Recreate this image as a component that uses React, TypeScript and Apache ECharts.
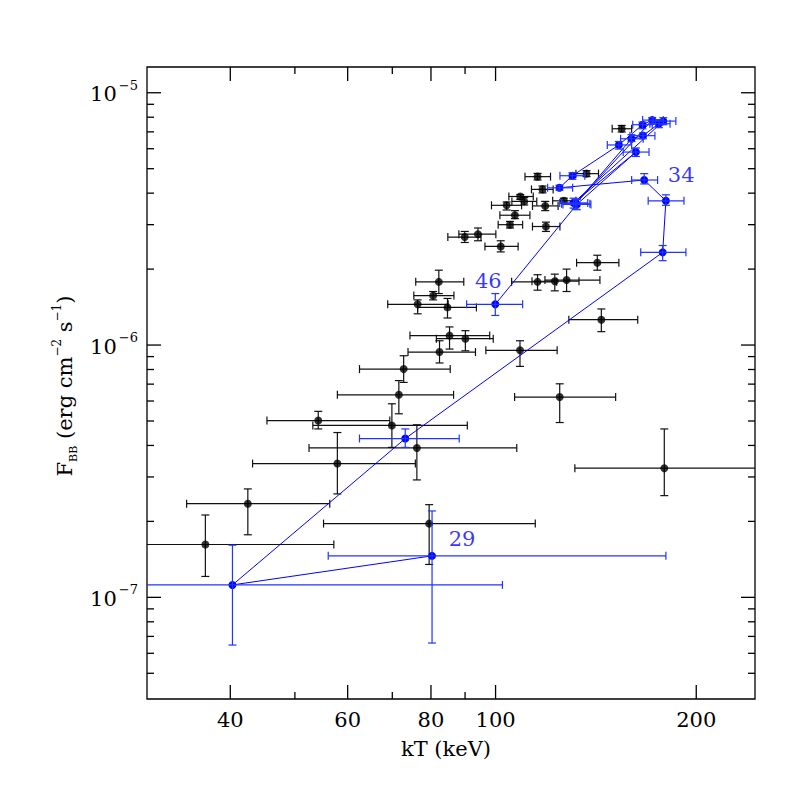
import React, { useEffect, useRef } from "react";
import * as echarts from "echarts";

const FONT = "DejaVu Serif";

// Axis ranges (kT in keV, F_BB in erg cm^-2 s^-1)
const X_MIN = 30;
const X_MAX = 245;
const Y_MIN = 3.954e-8;
const Y_MAX = 1.265e-5;

// Tick values and labels
const xMajorTicks = [40, 60, 80, 100, 200];
const xTickLabels = ["40", "60", "80", "100", "200"];
const xMinorTicks = [50, 70, 90];
const yMajorTicks = [1e-7, 1e-6, 1e-5];
const yTickExponents = ["\u22127", "\u22126", "\u22125"];
const yMinorTicks = [
  5e-8, 6e-8, 7e-8, 8e-8, 9e-8,
  2e-7, 3e-7, 4e-7, 5e-7, 6e-7, 7e-7, 8e-7, 9e-7,
  2e-6, 3e-6, 4e-6, 5e-6, 6e-6, 7e-6, 8e-6, 9e-6,
];

// Black points: kT, flux and their error-bar bounds
const blackKT = [154.6, 115.6, 136.9, 117.6, 108.9, 110.4, 103.9, 118.7, 126.6, 106.9, 105.1, 119.0, 94.1, 89.9, 101.8, 142.1, 82.2, 80.6, 76.4, 84.7, 115.6, 122.7, 127.8, 144.1, 85.3, 90.1, 82.4, 108.8, 72.8, 71.6, 124.8, 54.2, 69.9, 76.2, 57.9, 42.5, 36.7, 79.5, 179.1];
const blackF = [7.20e-6, 4.65e-6, 4.78e-6, 4.14e-6, 3.88e-6, 3.71e-6, 3.58e-6, 3.56e-6, 3.73e-6, 3.27e-6, 3.00e-6, 2.95e-6, 2.75e-6, 2.68e-6, 2.46e-6, 2.12e-6, 1.78e-6, 1.57e-6, 1.45e-6, 1.41e-6, 1.78e-6, 1.79e-6, 1.81e-6, 1.26e-6, 1.09e-6, 1.06e-6, 9.38e-7, 9.53e-7, 8.03e-7, 6.35e-7, 6.22e-7, 5.02e-7, 4.80e-7, 3.91e-7, 3.39e-7, 2.35e-7, 1.62e-7, 1.96e-7, 3.25e-7];
const blackKTLo = [149.6, 110.7, 132.0, 113.2, 104.7, 105.8, 98.6, 113.6, 121.8, 101.5, 100.9, 113.6, 88.1, 84.8, 96.4, 132.3, 75.9, 75.4, 68.9, 76.4, 105.7, 113.4, 118.6, 128.8, 74.4, 81.5, 73.9, 96.7, 62.5, 57.9, 106.8, 45.4, 53.2, 52.5, 43.2, 34.4, 28.0, 55.2, 131.5];
const blackKTHi = [160.0, 120.9, 142.7, 122.0, 113.9, 115.3, 109.4, 124.1, 132.0, 112.6, 109.8, 124.9, 100.1, 95.1, 108.1, 153.1, 89.6, 86.6, 84.9, 93.6, 123.5, 133.4, 143.4, 163.4, 98.0, 99.2, 93.3, 123.7, 85.5, 86.5, 151.4, 69.4, 90.7, 107.6, 75.8, 56.4, 57.2, 114.7, 260];
const blackFLo = [6.99e-6, 4.51e-6, 4.65e-6, 4.01e-6, 3.78e-6, 3.59e-6, 3.43e-6, 3.41e-6, 3.65e-6, 3.17e-6, 2.91e-6, 2.82e-6, 2.59e-6, 2.55e-6, 2.34e-6, 1.98e-6, 1.60e-6, 1.51e-6, 1.33e-6, 1.28e-6, 1.65e-6, 1.64e-6, 1.63e-6, 1.13e-6, 9.64e-7, 9.49e-7, 8.49e-7, 8.23e-7, 7.11e-7, 5.34e-7, 4.93e-7, 4.65e-7, 3.93e-7, 2.92e-7, 2.57e-7, 1.77e-7, 1.21e-7, 1.35e-7, 2.53e-7];
const blackFHi = [7.42e-6, 4.79e-6, 4.91e-6, 4.27e-6, 3.95e-6, 3.84e-6, 3.69e-6, 3.71e-6, 3.82e-6, 3.41e-6, 3.09e-6, 3.07e-6, 2.91e-6, 2.82e-6, 2.59e-6, 2.27e-6, 1.98e-6, 1.63e-6, 1.51e-6, 1.53e-6, 1.90e-6, 1.91e-6, 2.00e-6, 1.39e-6, 1.18e-6, 1.14e-6, 1.04e-6, 1.04e-6, 9.07e-7, 7.23e-7, 7.02e-7, 5.46e-7, 5.85e-7, 4.83e-7, 4.50e-7, 2.69e-7, 2.12e-7, 2.33e-7, 4.65e-7];

// Blue track (time-ordered, connected)
const blueKT = [80.3, 40.3, 73.2, 178.1, 180.1, 167.1, 124.7, 130.4, 153.1, 166.1, 171.8, 131.8, 159.9, 166.4, 175.8, 178.5, 130.9, 162.4, 132.4, 99.9];
const blueF = [1.46e-7, 1.12e-7, 4.26e-7, 2.33e-6, 3.73e-6, 4.51e-6, 4.20e-6, 4.69e-6, 6.21e-6, 7.47e-6, 7.79e-6, 3.63e-6, 6.57e-6, 6.76e-6, 7.54e-6, 7.72e-6, 3.66e-6, 5.82e-6, 3.61e-6, 1.45e-6];
const blueKTLo = [56.1, 28.0, 62.5, 165.1, 169.4, 160.0, 119.7, 124.9, 147.1, 160.6, 166.2, 125.6, 154.0, 159.1, 170.4, 172.4, 124.8, 155.4, 126.2, 90.5];
const blueKTHi = [180.1, 102.4, 88.2, 193.0, 191.7, 175.0, 130.5, 136.1, 160.0, 171.8, 178.5, 138.5, 166.5, 173.4, 182.7, 186.4, 137.5, 169.9, 139.0, 109.8];
const blueFLo = [6.59e-8, 6.47e-8, 3.93e-7, 2.16e-6, 3.58e-6, 4.35e-6, 4.11e-6, 4.54e-6, 5.98e-6, 7.20e-6, 7.52e-6, 3.46e-6, 6.41e-6, 6.57e-6, 7.27e-6, 7.47e-6, 3.49e-6, 5.59e-6, 3.44e-6, 1.31e-6];
const blueFHi = [2.20e-7, 1.61e-7, 4.65e-7, 2.48e-6, 3.94e-6, 4.78e-6, 4.30e-6, 4.82e-6, 6.41e-6, 7.65e-6, 7.98e-6, 3.79e-6, 6.82e-6, 6.93e-6, 7.82e-6, 7.96e-6, 3.82e-6, 6.04e-6, 3.77e-6, 1.60e-6];

// Annotated blue points
const annotIndex = [0, 5, 19];
const annotText = ["29", "34", "46"];
const annotOffsets: [number, number][] = [[30, -17], [37, -5], [-7, -23]];

const REF_F = 1e-6;
const REF_KT = 100;

function errorBarSeries(kt: number[], f: number[], ktLo: number[], ktHi: number[], fLo: number[], fHi: number[], color: string, z: number) {
  return {
    type: "custom",
    coordinateSystem: "cartesian2d",
    silent: true,
    z,
    encode: { x: 0, y: 1 },
    data: kt.map((v, i) => [v, f[i], ktLo[i], ktHi[i], fLo[i], fHi[i]]),
    renderItem: (params: any, api: any) => {
      const x = api.value(0), y = api.value(1);
      const c = api.coord([x, y]);
      const pl = api.coord([api.value(2), y]);
      const ph = api.coord([api.value(3), y]);
      const pb = api.coord([x, api.value(4)]);
      const pt = api.coord([x, api.value(5)]);
      const cap = 4;
      const style = { stroke: color, lineWidth: 1.2, fill: "none" };
      const cs = params.coordSys;
      return {
        type: "group",
        clipPath: { type: "rect", shape: { x: cs.x, y: cs.y, width: cs.width, height: cs.height } },
        children: [
          { type: "line", shape: { x1: pl[0], y1: c[1], x2: ph[0], y2: c[1] }, style },
          { type: "line", shape: { x1: pl[0], y1: c[1] - cap, x2: pl[0], y2: c[1] + cap }, style },
          { type: "line", shape: { x1: ph[0], y1: c[1] - cap, x2: ph[0], y2: c[1] + cap }, style },
          { type: "line", shape: { x1: c[0], y1: pt[1], x2: c[0], y2: pb[1] }, style },
          { type: "line", shape: { x1: c[0] - cap, y1: pt[1], x2: c[0] + cap, y2: pt[1] }, style },
          { type: "line", shape: { x1: c[0] - cap, y1: pb[1], x2: c[0] + cap, y2: pb[1] }, style },
        ],
      };
    },
  };
}

function xTickSeries(values: number[], len: number, labels?: string[]) {
  return {
    type: "custom",
    coordinateSystem: "cartesian2d",
    silent: true,
    z: 10,
    encode: { x: 0, y: 1 },
    data: values.map((v) => [v, REF_F]),
    renderItem: (params: any, api: any) => {
      const cs = params.coordSys;
      const px = api.coord([api.value(0), REF_F])[0];
      const top = cs.y, bot = cs.y + cs.height;
      const st = { stroke: "#000", lineWidth: 1.3 };
      const children: any[] = [
        { type: "line", shape: { x1: px, y1: bot, x2: px, y2: bot - len }, style: st },
        { type: "line", shape: { x1: px, y1: top, x2: px, y2: top + len }, style: st },
      ];
      if (labels) {
        children.push({
          type: "text",
          x: px,
          y: bot + 21,
          style: { text: labels[params.dataIndex], fill: "#000", fontSize: 21, fontFamily: FONT, align: "center", verticalAlign: "middle" },
        });
      }
      return { type: "group", children };
    },
  };
}

function yTickSeries(values: number[], len: number, exps?: string[]) {
  return {
    type: "custom",
    coordinateSystem: "cartesian2d",
    silent: true,
    z: 10,
    encode: { x: 0, y: 1 },
    data: values.map((v) => [REF_KT, v]),
    renderItem: (params: any, api: any) => {
      const cs = params.coordSys;
      const py = api.coord([REF_KT, api.value(1)])[1];
      const left = cs.x, right = cs.x + cs.width;
      const st = { stroke: "#000", lineWidth: 1.3 };
      const children: any[] = [
        { type: "line", shape: { x1: left, y1: py, x2: left + len, y2: py }, style: st },
        { type: "line", shape: { x1: right, y1: py, x2: right - len, y2: py }, style: st },
      ];
      if (exps) {
        children.push({
          type: "text",
          x: left - 9,
          y: py - 1,
          style: {
            text: `{b|10}{s|${exps[params.dataIndex]}}`,
            rich: {
              b: { fontSize: 21, fontFamily: FONT, fill: "#000", lineHeight: 26, verticalAlign: "bottom", padding: [0, 2, 0, 0] },
              s: { fontSize: 13, fontFamily: FONT, fill: "#000", lineHeight: 14, verticalAlign: "top" },
            },
            align: "right",
            verticalAlign: "middle",
          },
        });
      }
      return { type: "group", children };
    },
  };
}

function buildOption(): any {
  return {
    animation: false,
    backgroundColor: "#fff",
    grid: { left: 147, top: 67, width: 608, height: 632, show: true, borderColor: "#000", borderWidth: 1.3, backgroundColor: "transparent" },
    xAxis: {
      type: "log", logBase: 10, min: X_MIN, max: X_MAX,
      axisLine: { show: false }, axisTick: { show: false }, axisLabel: { show: false }, splitLine: { show: false },
    },
    yAxis: {
      type: "log", logBase: 10, min: Y_MIN, max: Y_MAX,
      axisLine: { show: false }, axisTick: { show: false }, axisLabel: { show: false }, splitLine: { show: false },
    },
    graphic: [
      {
        type: "text", x: 446, y: 749,
        style: { text: "kT (keV)", fill: "#000", fontSize: 21, fontFamily: FONT, align: "center", verticalAlign: "middle" },
      },
      {
        type: "text", x: 65, y: 386, rotation: Math.PI / 2,
        style: {
          text: "{n|F}{sub|BB}{n| (erg cm}{sup|\u22122}{n| s}{sup|\u22121}{n|)}",
          rich: {
            n: { fontSize: 21, fontFamily: FONT, fill: "#000", lineHeight: 28, verticalAlign: "middle" },
            sub: { fontSize: 11, fontFamily: FONT, fill: "#000", lineHeight: 12, verticalAlign: "bottom" },
            sup: { fontSize: 12, fontFamily: FONT, fill: "#000", lineHeight: 14, verticalAlign: "top" },
          },
          align: "center", verticalAlign: "middle",
        },
      },
    ],
    series: [
      errorBarSeries(blackKT, blackF, blackKTLo, blackKTHi, blackFLo, blackFHi, "#111", 2),
      {
        type: "scatter", z: 3, silent: true, symbol: "circle", symbolSize: 8,
        itemStyle: { color: "#000" },
        data: blackKT.map((v, i) => [v, blackF[i]]),
      },
      {
        type: "line", z: 4, silent: true, symbol: "circle", symbolSize: 8, showSymbol: true,
        itemStyle: { color: "#0000ff" },
        lineStyle: { color: "#0000ff", width: 1 },
        data: blueKT.map((v, i) => [v, blueF[i]]),
      },
      errorBarSeries(blueKT, blueF, blueKTLo, blueKTHi, blueFLo, blueFHi, "#1f35ff", 5),
      {
        type: "scatter", z: 12, silent: true, symbolSize: 0,
        data: annotIndex.map((idx, k) => ({
          value: [blueKT[idx], blueF[idx]],
          label: {
            show: true, position: "inside", formatter: annotText[k], offset: annotOffsets[k],
            color: "#0000ff", fontSize: 21, fontFamily: FONT,
          },
        })),
      },
      xTickSeries(xMajorTicks, 14, xTickLabels),
      xTickSeries(xMinorTicks, 7),
      yTickSeries(yMajorTicks, 14, yTickExponents),
      yTickSeries(yMinorTicks, 7),
    ],
  };
}

export default function App() {
  const ref = useRef<HTMLDivElement>(null);
  useEffect(() => {
    const chart = echarts.init(ref.current!, null, { renderer: "svg" });
    chart.setOption(buildOption());
    return () => chart.dispose();
  }, []);
  return (
    <div
      ref={ref}
      style={{ position: "fixed", left: 0, top: 0, width: 797, height: 797, background: "#fff" }}
    />
  );
}
